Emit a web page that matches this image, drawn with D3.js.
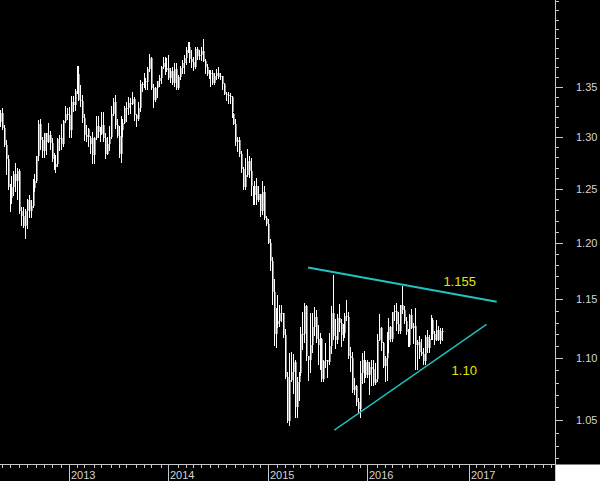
<!DOCTYPE html>
<html>
<head>
<meta charset="utf-8">
<title>EUR/USD weekly</title>
<script src="https://d3js.org/d3.v7.min.js"></script>
<style>
    body { margin: 0; background: #000; overflow: hidden; }
    svg { display: block; }
    .hl { stroke: #fff; stroke-width: 1px; shape-rendering: crispEdges; }
    .oc { fill: #8a8a8a; shape-rendering: crispEdges; }
    .axis-line { stroke: #c8c8c8; stroke-width: 1px; shape-rendering: crispEdges; }
    .axis-label { fill: #d4d4d4; font: 11px "Liberation Sans", Arial, sans-serif; }
    .trend { stroke: #22c2c2; fill: none; }
    .note { fill: #e4e400; font: 13px "Liberation Sans", Arial, sans-serif; }
</style>
</head>
<body>
<script>
// weekly bars, dated by the friday of each week
var firstFriday = "2012-04-27";

var opens = [
    1.3150,1.3237,1.3085,1.2918,1.2780,1.2512,1.2415,1.2515,1.2640,1.2570,1.2665,1.2290,1.2245,1.2155,1.2290,1.2390,1.2290,1.2335,1.2510,1.2575,1.2810,1.3125,1.2970,1.2860,1.3035,1.2950,1.3020,1.2940,1.2780,1.2710,1.2740,1.2975,1.2985,1.2925,1.3160,1.3220,
    1.3215,1.3065,1.3345,1.3315,1.3460,1.3635,1.3365,1.3360,1.3190,1.3020,1.2995,1.2930,1.2985,1.2820,1.2990,1.3110,1.3050,1.3030,1.3115,1.2990,1.2835,1.2930,1.2995,1.3220,1.3345,1.3120,1.3010,1.2835,1.3065,1.3140,1.3280,1.3280,1.3340,1.3330,1.3375,1.3215,1.3180,1.3285,1.3525,1.3525,1.3555,1.3545,1.3685,1.3800,1.3485,1.3365,1.3490,1.3555,1.3590,1.3705,1.3740,1.3675,
    1.3690,1.3590,1.3665,1.3540,1.3680,1.3485,1.3600,1.3690,1.3740,1.3800,1.3875,1.3910,1.3790,1.3750,1.3705,1.3885,1.3815,1.3830,1.3870,1.3760,1.3700,1.3630,1.3635,1.3640,1.3540,1.3610,1.3645,1.3600,1.3605,1.3525,1.3430,1.3415,1.3410,1.3400,1.3220,1.3130,1.2950,1.2965,1.2830,1.2685,1.2520,1.2630,1.2760,1.2670,1.2525,1.2445,1.2525,1.2390,1.2450,1.2290,1.2465,1.2225,
    1.2175,1.2000,1.1840,1.1565,1.1205,1.1290,1.1315,1.1385,1.1380,1.1195,1.0845,1.0495,1.0825,1.0890,1.0970,1.0600,1.0805,1.0875,1.1200,1.1200,1.1445,1.1015,1.0985,1.1110,1.1265,1.1350,1.1165,1.1110,1.1160,1.0830,1.0980,1.0985,1.0970,1.1105,1.1385,1.1185,1.1150,1.1340,1.1300,1.1195,1.1210,1.1360,1.1350,1.1015,1.1005,1.0740,1.0770,1.0645,1.0590,1.0880,1.0990,1.0865,
    1.0970,1.0865,1.0930,1.0915,1.0795,1.0830,1.1155,1.1255,1.1130,1.0935,1.1005,1.1150,1.1265,1.1165,1.1390,1.1400,1.1285,1.1225,1.1450,1.1405,1.1310,1.1220,1.1115,1.1365,1.1255,1.1275,1.1115,1.1135,1.1050,1.1035,1.0975,1.1175,1.1085,1.1165,1.1325,1.1200,1.1155,1.1235,1.1155,1.1225
];
var highs = [
    1.3265,1.3283,1.3115,1.2970,1.2826,1.2545,1.2625,1.2672,1.2748,1.2693,1.2692,1.2330,1.2330,1.2310,1.2405,1.2443,1.2390,1.2590,1.2638,1.2817,1.3170,1.3172,1.2995,1.3040,1.3040,1.3140,1.3059,1.2990,1.2845,1.2820,1.2985,1.3020,1.3125,1.3167,1.3308,1.3280,
    1.3293,1.3404,1.3403,1.3480,1.3711,1.3710,1.3520,1.3415,1.3225,1.3115,1.3090,1.3005,1.3050,1.3000,1.3205,1.3205,1.3095,1.3240,1.3240,1.3035,1.2995,1.3105,1.3305,1.3390,1.3415,1.3180,1.3110,1.3205,1.3175,1.3300,1.3345,1.3395,1.3390,1.3450,1.3395,1.3225,1.3345,1.3570,1.3545,1.3645,1.3590,1.3705,1.3832,1.3810,1.3530,1.3495,1.3560,1.3620,1.3710,1.3810,1.3810,1.3800,
    1.3830,1.3690,1.3700,1.3740,1.3740,1.3620,1.3710,1.3775,1.3825,1.3915,1.3965,1.3965,1.3875,1.3810,1.3905,1.3905,1.3875,1.3905,1.3995,1.3790,1.3730,1.3670,1.3675,1.3675,1.3645,1.3680,1.3700,1.3645,1.3610,1.3535,1.3445,1.3445,1.3435,1.3405,1.3230,1.3175,1.2995,1.3000,1.2860,1.2705,1.2790,1.2885,1.2810,1.2790,1.2530,1.2575,1.2600,1.2530,1.2455,1.2570,1.2530,1.2250,
    1.2220,1.2035,1.1870,1.1680,1.1425,1.1535,1.1450,1.1450,1.1385,1.1245,1.0885,1.1045,1.1050,1.1035,1.0990,1.0850,1.0890,1.1265,1.1390,1.1465,1.1450,1.1020,1.1385,1.1385,1.1435,1.1410,1.1280,1.1215,1.1170,1.0985,1.1130,1.0990,1.1215,1.1440,1.1715,1.1330,1.1370,1.1460,1.1330,1.1290,1.1385,1.1495,1.1390,1.1095,1.1050,1.0835,1.0780,1.0675,1.0980,1.1045,1.1060,1.0990,
    1.0990,1.0970,1.0990,1.0990,1.0965,1.1200,1.1375,1.1260,1.1135,1.1015,1.1220,1.1340,1.1275,1.1395,1.1455,1.1465,1.1395,1.1455,1.1615,1.1445,1.1350,1.1245,1.1375,1.1415,1.1300,1.1425,1.1155,1.1185,1.1165,1.1085,1.1195,1.1235,1.1195,1.1365,1.1340,1.1230,1.1325,1.1275,1.1255,1.1255
];
var lows = [
    1.3110,1.3075,1.2912,1.2642,1.2495,1.2288,1.2371,1.2440,1.2475,1.2405,1.2270,1.2162,1.2143,1.2042,1.2134,1.2240,1.2240,1.2330,1.2480,1.2560,1.2770,1.2884,1.2803,1.2804,1.2835,1.2950,1.2880,1.2762,1.2692,1.2661,1.2720,1.2875,1.2876,1.2910,1.3150,1.3180,
    1.3000,1.2998,1.3255,1.3265,1.3440,1.3370,1.3305,1.3145,1.2967,1.2955,1.2910,1.2843,1.2750,1.2745,1.2975,1.2995,1.2955,1.3025,1.2955,1.2795,1.2830,1.2870,1.2985,1.3210,1.3085,1.2995,1.2805,1.2755,1.3010,1.3135,1.3160,1.3220,1.3235,1.3325,1.3165,1.3105,1.3170,1.3255,1.3455,1.3500,1.3475,1.3480,1.3665,1.3475,1.3295,1.3360,1.3400,1.3510,1.3540,1.3690,1.3625,1.3660,
    1.3575,1.3545,1.3530,1.3505,1.3475,1.3475,1.3580,1.3640,1.3640,1.3730,1.3855,1.3750,1.3705,1.3670,1.3690,1.3790,1.3780,1.3770,1.3760,1.3645,1.3615,1.3585,1.3505,1.3525,1.3525,1.3580,1.3590,1.3575,1.3475,1.3425,1.3365,1.3335,1.3335,1.3195,1.3125,1.2920,1.2860,1.2815,1.2660,1.2500,1.2500,1.2620,1.2615,1.2445,1.2360,1.2360,1.2360,1.2385,1.2245,1.2265,1.2220,1.2165,
    1.1995,1.1755,1.1460,1.1115,1.1098,1.1260,1.1270,1.1315,1.1175,1.0840,1.0485,1.0460,1.0810,1.0715,1.0520,1.0520,1.0660,1.0865,1.1080,1.1135,1.0985,1.0820,1.0885,1.1050,1.1195,1.1135,1.0955,1.0915,1.0810,1.0810,1.0925,1.0850,1.0955,1.1040,1.1160,1.1085,1.1130,1.1225,1.1105,1.1155,1.1175,1.1325,1.1005,1.0895,1.0725,1.0705,1.0620,1.0565,1.0525,1.0795,1.0805,1.0850,
    1.0850,1.0710,1.0780,1.0780,1.0790,1.0810,1.1150,1.1065,1.0930,1.0810,1.0825,1.1055,1.1145,1.1145,1.1325,1.1235,1.1215,1.1215,1.1385,1.1300,1.1200,1.1100,1.1100,1.1250,1.1130,1.0910,1.0910,1.1000,1.1030,1.0950,1.0950,1.1050,1.1050,1.1160,1.1165,1.1120,1.1150,1.1150,1.1125,1.1150
];
var closes = [
    1.3235,1.3085,1.2918,1.2780,1.2512,1.2415,1.2515,1.2640,1.2570,1.2665,1.2290,1.2245,1.2155,1.2290,1.2390,1.2290,1.2335,1.2510,1.2575,1.2810,1.3125,1.2970,1.2860,1.3035,1.2950,1.3020,1.2940,1.2780,1.2710,1.2740,1.2975,1.2985,1.2925,1.3160,1.3220,1.3215,
    1.3065,1.3345,1.3315,1.3460,1.3635,1.3365,1.3360,1.3190,1.3020,1.2995,1.3075,1.2985,1.2820,1.2990,1.3110,1.3050,1.3030,1.3115,1.2990,1.2835,1.2930,1.2995,1.3220,1.3345,1.3120,1.3010,1.2835,1.3065,1.3140,1.3280,1.3280,1.3340,1.3330,1.3375,1.3215,1.3180,1.3285,1.3525,1.3525,1.3555,1.3545,1.3685,1.3800,1.3485,1.3365,1.3490,1.3555,1.3590,1.3705,1.3740,1.3675,1.3690,
    1.3590,1.3665,1.3540,1.3680,1.3485,1.3600,1.3690,1.3740,1.3800,1.3875,1.3910,1.3790,1.3750,1.3705,1.3885,1.3815,1.3830,1.3870,1.3760,1.3700,1.3630,1.3635,1.3640,1.3540,1.3610,1.3645,1.3600,1.3605,1.3525,1.3430,1.3415,1.3410,1.3400,1.3240,1.3130,1.2950,1.2965,1.2830,1.2685,1.2520,1.2630,1.2760,1.2670,1.2525,1.2445,1.2525,1.2390,1.2450,1.2290,1.2465,1.2225,1.2175,
    1.2000,1.1840,1.1565,1.1205,1.1290,1.1315,1.1385,1.1380,1.1195,1.0845,1.0495,1.0825,1.0890,1.0970,1.0600,1.0805,1.0875,1.1200,1.1200,1.1445,1.1015,1.0985,1.1110,1.1265,1.1350,1.1165,1.1110,1.1160,1.0830,1.0980,1.0985,1.0970,1.1105,1.1385,1.1185,1.1150,1.1340,1.1300,1.1195,1.1210,1.1360,1.1350,1.1015,1.1005,1.0740,1.0770,1.0645,1.0590,1.0880,1.0990,1.0865,1.0970,
    1.0865,1.0930,1.0915,1.0795,1.0830,1.1155,1.1255,1.1130,1.0935,1.1005,1.1150,1.1265,1.1165,1.1390,1.1400,1.1285,1.1225,1.1450,1.1405,1.1310,1.1220,1.1115,1.1365,1.1255,1.1275,1.1115,1.1135,1.1050,1.1035,1.0975,1.1175,1.1085,1.1165,1.1325,1.1200,1.1155,1.1235,1.1155,1.1225,1.1220
];

var priceLabels = ["1.05", "1.10", "1.15", "1.20", "1.25", "1.30", "1.35"];

// trend lines: [date, price]
var upperTrend = [["2015-05-29", 1.178], ["2017-04-18", 1.148]];
var lowerTrend = [["2015-09-02", 1.042], ["2017-03-12", 1.1285]];
var notes = [
    { text: "1.155", date: "2016-10-05", price: 1.162 },
    { text: "1.10",  date: "2016-11-04", price: 1.0863 }
];

var width = 600, height = 481;
var axisX = 555.5, axisY = 464.5;
var nWeeks = 290;

var parse = d3.timeParse("%Y-%m-%d");
var start = parse(firstFriday);
var weeks = d3.range(nWeeks).map(function(i){ return d3.timeDay.offset(start, 7 * i); });
function weekIndex(s){ return d3.timeDay.count(start, parse(s)) / 7; }

var x = d3.scaleLinear().domain([0, nWeeks - 1]).range([0, 553]);
var y = d3.scaleLog().domain([1.05, 1.35]).range([420, 86.7]);

var svg = d3.select("body").append("svg")
    .attr("width", width)
    .attr("height", height);

svg.append("rect").attr("width", width).attr("height", height).attr("fill", "#000");
svg.append("rect")
    .attr("x", axisX).attr("y", axisY)
    .attr("width", width - axisX).attr("height", height - axisY)
    .attr("fill", "#fff");

// bars
var bars = svg.append("g");
bars.selectAll("rect.oc")
    .data(d3.range(closes.length))
    .enter().append("rect")
    .attr("class", "oc")
    .attr("x", function(i){ return Math.round(x(i)) + 1; })
    .attr("width", 1)
    .attr("y", function(i){ return Math.round(y(Math.max(opens[i], closes[i]))); })
    .attr("height", function(i){ return Math.max(1, Math.round(y(Math.min(opens[i], closes[i]))) - Math.round(y(Math.max(opens[i], closes[i])))); });

bars.selectAll("line.hl")
    .data(d3.range(closes.length))
    .enter().append("line")
    .attr("class", "hl")
    .attr("x1", function(i){ return Math.round(x(i)) + 0.5; })
    .attr("x2", function(i){ return Math.round(x(i)) + 0.5; })
    .attr("y1", function(i){ return Math.round(y(highs[i])); })
    .attr("y2", function(i){ return Math.round(y(lows[i])) + 1; });

// trend lines
var trendLine = d3.line()
    .x(function(d){ return x(weekIndex(d[0])); })
    .y(function(d){ return y(d[1]); });

svg.append("path").attr("class", "trend").attr("stroke-width", 2).attr("d", trendLine(upperTrend));
svg.append("path").attr("class", "trend").attr("stroke-width", 1.3).attr("d", trendLine(lowerTrend));

svg.selectAll("text.note")
    .data(notes)
    .enter().append("text")
    .attr("class", "note")
    .attr("x", function(d){ return x(weekIndex(d.date)); })
    .attr("y", function(d){ return y(d.price); })
    .text(function(d){ return d.text; });

// right price axis
var rAxis = svg.append("g");
rAxis.append("line").attr("class", "axis-line")
    .attr("x1", axisX).attr("x2", axisX).attr("y1", 0).attr("y2", height);

var minorPrices = d3.range(102, 145).map(function(v){ return v / 100; })
    .filter(function(p){ return priceLabels.indexOf(p.toFixed(2)) < 0; });

rAxis.selectAll("line.minor")
    .data(minorPrices)
    .enter().append("line")
    .attr("class", "axis-line")
    .attr("x1", axisX).attr("x2", axisX + 3.5)
    .attr("y1", function(p){ return Math.round(y(p)) + 0.5; })
    .attr("y2", function(p){ return Math.round(y(p)) + 0.5; });

rAxis.selectAll("line.major")
    .data(priceLabels)
    .enter().append("line")
    .attr("class", "axis-line")
    .attr("x1", axisX).attr("x2", axisX + 7.5)
    .attr("y1", function(p){ return Math.round(y(+p)) + 0.5; })
    .attr("y2", function(p){ return Math.round(y(+p)) + 0.5; });

rAxis.selectAll("text")
    .data(priceLabels)
    .enter().append("text")
    .attr("class", "axis-label")
    .attr("x", axisX + 20.5)
    .attr("y", function(p){ return y(+p) + 4; })
    .text(function(p){ return p; });

// bottom time axis
var bAxis = svg.append("g");
bAxis.append("line").attr("class", "axis-line")
    .attr("x1", 0).attr("x2", axisX).attr("y1", axisY).attr("y2", axisY);

var monthStarts = d3.range(1, nWeeks).filter(function(i){
    return weeks[i].getMonth() !== weeks[i - 1].getMonth();
});
var yearStarts = monthStarts.filter(function(i){
    return weeks[i].getFullYear() !== weeks[i - 1].getFullYear();
});

bAxis.selectAll("line.month")
    .data(monthStarts.filter(function(i){ return yearStarts.indexOf(i) < 0; }))
    .enter().append("line")
    .attr("class", "axis-line")
    .attr("x1", function(i){ return Math.round(x(i)) + 0.5; })
    .attr("x2", function(i){ return Math.round(x(i)) + 0.5; })
    .attr("y1", axisY).attr("y2", axisY + 3.5);

bAxis.selectAll("line.year")
    .data(yearStarts)
    .enter().append("line")
    .attr("class", "axis-line")
    .attr("x1", function(i){ return Math.round(x(i)) + 0.5; })
    .attr("x2", function(i){ return Math.round(x(i)) + 0.5; })
    .attr("y1", axisY).attr("y2", height);

bAxis.selectAll("text")
    .data(yearStarts)
    .enter().append("text")
    .attr("class", "axis-label")
    .attr("x", function(i){ return Math.round(x(i)) + 2; })
    .attr("y", 478.5)
    .text(function(i){ return weeks[i].getFullYear(); });
</script>
</body>
</html>
